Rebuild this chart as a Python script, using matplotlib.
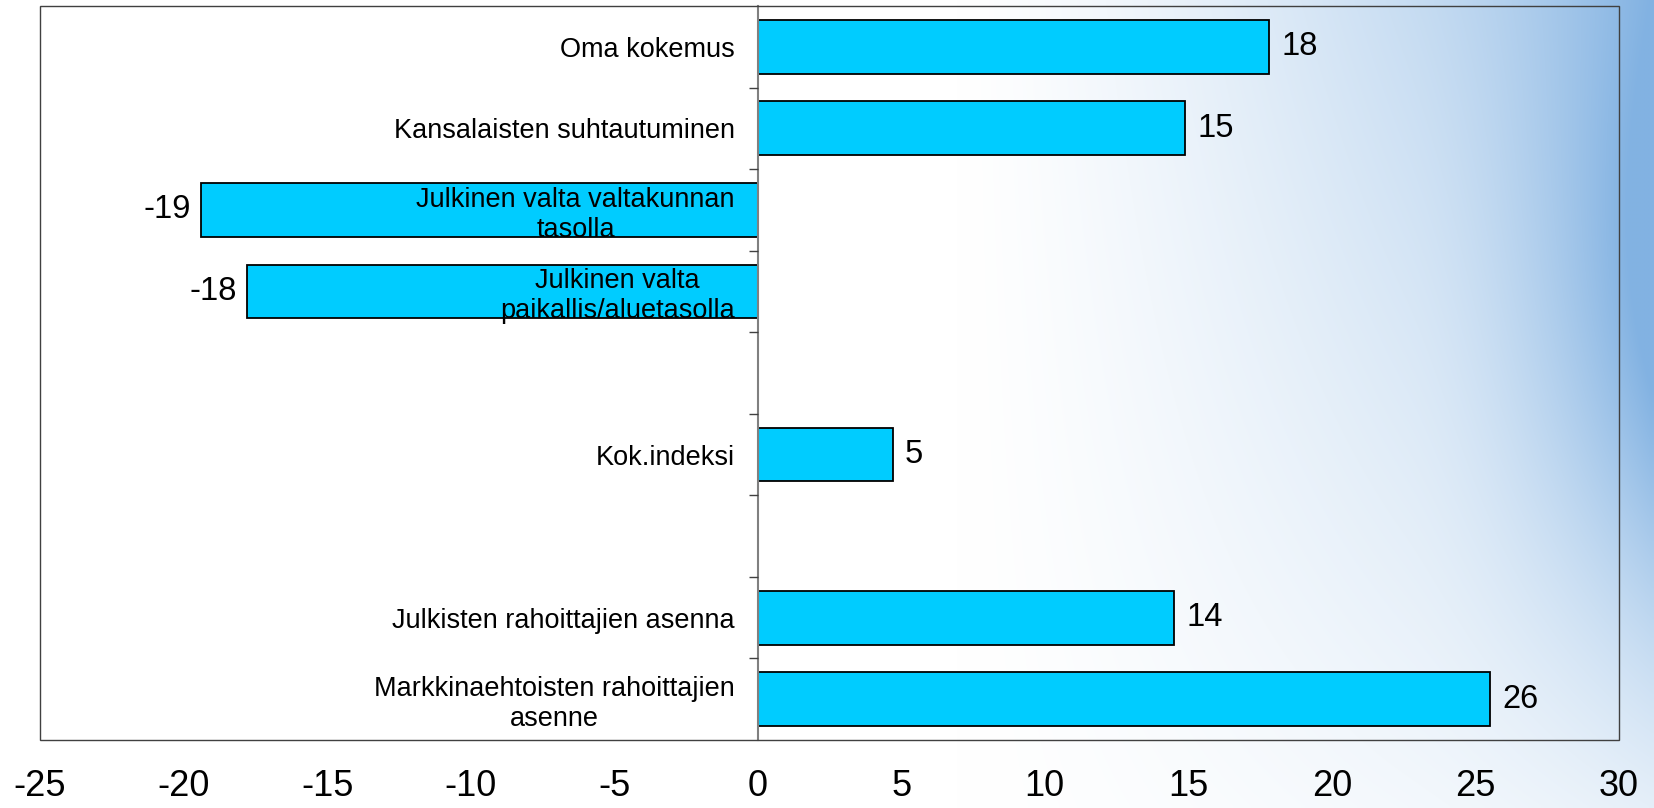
import numpy as np
import matplotlib.pyplot as plt
from matplotlib.patches import Rectangle

# data (top to bottom, '' = empty slot)
categories = ["Oma kokemus",
              "Kansalaisten suhtautuminen",
              "Julkinen valta valtakunnan\ntasolla",
              "Julkinen valta\npaikallis/aluetasolla",
              "",
              "Kok.indeksi",
              "",
              "Julkisten rahoittajien asenna",
              "Markkinaehtoisten rahoittajien\nasenne"]
values = [17.8, 14.9, -19.4, -17.8, np.nan, 4.7, np.nan, 14.5, 25.5]
x_ticks = [-25, -20, -15, -10, -5, 0, 5, 10, 15, 20, 25, 30]

plt.rcParams['font.family'] = ['Liberation Sans', 'DejaVu Sans']
plt.rcParams['axes.unicode_minus'] = False

fig = plt.figure(figsize=(16.54, 8.08), dpi=100)

# blue gradient background
bg = fig.add_axes([0, 0, 1, 1], zorder=-10)
xx, yy = np.meshgrid(np.linspace(0, 1, 414), np.linspace(0, 1, 202))
a = np.clip((xx - 0.58) / 0.42, 0, 1) ** 1.3
b = 0.78 - 0.62 * yy
e = np.clip((xx - 0.85) / 0.15, 0, 1) ** 2 * np.exp(-((yy - 0.38) / 0.4) ** 2) * 0.55
wgt = np.clip(a * b + e, 0, 1)[..., None]
blue = np.array([130, 178, 226]) / 255
img = np.ones(3) * (1 - wgt) + blue * wgt
bg.imshow(img, aspect='auto', extent=[0, 1, 0, 1], origin='upper', interpolation='bilinear')
bg.axis('off')

ax = fig.add_axes([0.0242, 0.0842, 0.9546, 0.9084])
ax.patch.set_alpha(0)
ax.set_axisbelow(False)

vals = np.array(values, dtype=float)
pos = np.arange(len(categories))
mask = ~np.isnan(vals)
ax.barh(pos[mask], vals[mask], height=0.66, color='#00CCFF',
        edgecolor='black', linewidth=1.3, zorder=1)

for p, v in zip(pos[mask], vals[mask]):
    ax.annotate(f"{round(v)}", (v, p), xytext=(9 if v > 0 else -7, 0),
                textcoords='offset points', ha='left' if v > 0 else 'right',
                va='center', fontsize=23.5)

ax.set_xlim(-25, 30)
ax.set_ylim(len(categories) - 0.5, -0.5)

# zero line as y axis, frame as rectangle
ax.spines['left'].set_position(('data', 0))
ax.spines['left'].set_color('#808080')
ax.spines['left'].set_linewidth(1.5)
for s in ['top', 'right', 'bottom']:
    ax.spines[s].set_visible(False)
ax.add_patch(Rectangle((0, 0), 1, 1, transform=ax.transAxes, fill=False,
                       ec='#404040', lw=1, clip_on=False, zorder=3))

ax.set_yticks(pos)
ax.set_yticklabels(categories, fontsize=19.5)
for t in ax.get_yticklabels():
    t.set_multialignment('center')
ax.set_yticks(pos[:-1] + 0.5, minor=True)
ax.tick_params(axis='y', which='major', length=0, pad=16.5)
ax.tick_params(axis='y', which='minor', length=6.3, width=1, color='#404040')

ax.set_xticks(x_ticks)
ax.tick_params(axis='x', length=0, labelsize=26, pad=21)

fig.savefig('out.png', dpi=100)
